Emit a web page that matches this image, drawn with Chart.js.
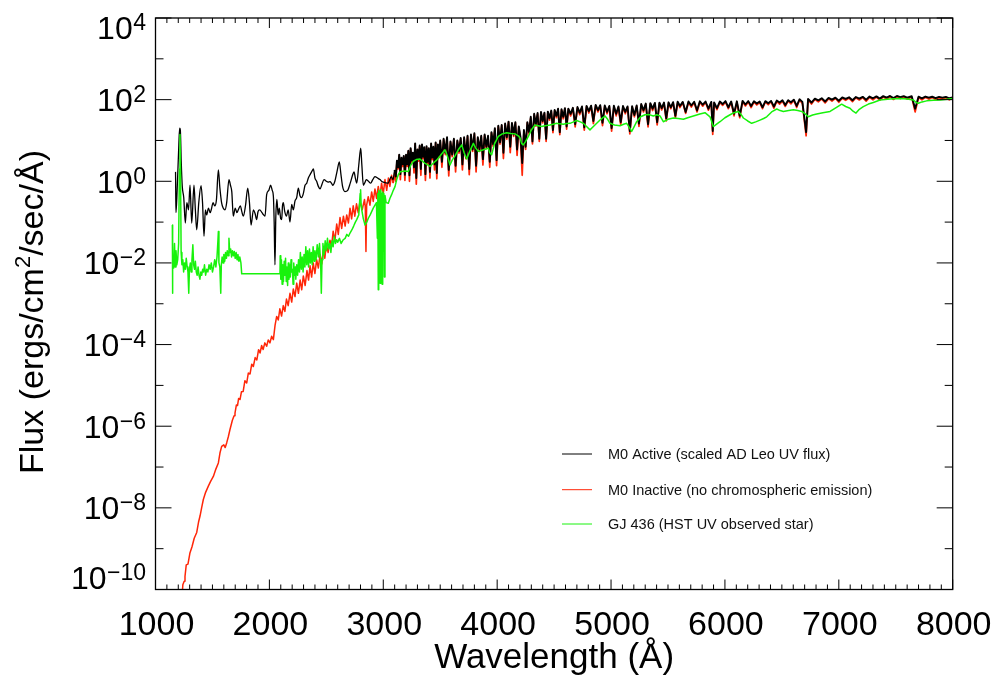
<!DOCTYPE html>
<html>
<head>
<meta charset="utf-8">
<title>M0 dwarf spectra</title>
<script src="https://cdn.jsdelivr.net/npm/chart.js@4.4.1/dist/chart.umd.min.js"></script>
<style>
  html, body { margin: 0; padding: 0; background: #fff; }
  canvas { display: block; }
</style>
</head>
<body>
<canvas id="spectra" width="995" height="681"></canvas>
<script>
// ---- Axis settings and tick labels ----
const xMin = 1000, xMax = 8000, xMajorStep = 1000, xMinorStep = 100;
const xTickValues = [1000, 2000, 3000, 4000, 5000, 6000, 7000, 8000];
const yTickExponents = [4, 2, 0, -2, -4, -6, -8, -10];
const yMinExp = -10, yMaxExp = 4;
const xTitle = 'Wavelength (Å)';
const yTitleParts = ['Flux (ergs/cm', '2', '/sec/Å)'];
const seriesNames = [
  'M0 Active (scaled AD Leo UV flux)',
  'M0 Inactive (no chromospheric emission)',
  'GJ 436 (HST UV observed star)'
];

// ---- M0 active: UV part (wavelength in Å, flux in ergs/cm2/sec/Å) ----
const activeUvWave = [1176,1178,1180,1190,1205,1212,1218,1226,1235,1248,
  1262,1275,1290,1303,1318,1338,1350,1362,1380,1400,
  1413,1426,1438,1449,1465,1480,1493,1505,1520,1535,
  1552,1565,1581,1595,1610,1625,1645,1658,1670,1683,
  1700,1715,1727,1745,1758,1771,1790,1810,1825,1839,
  1860,1875,1888,1900,1915,1935,1950,1962,1976,1995,
  2011,2025,2035,2042,2049,2056,2066,2077,2087,2100,
  2108,2115,2122,2135,2150,2165,2181,2196,2210,2225,
  2240,2254,2268,2283,2298,2313,2328,2342,2360,2375,
  2386,2400,2415,2430,2445,2462,2480,2500,2515,2532,
  2545,2556,2575,2595,2614,2628,2643,2664,2688,2710,
  2730,2743,2755,2767,2785,2802,2812,2825,2840,2851,
  2870,2889,2908,2927,2950,2971,2985,3000,3020,3044,
  3057,3070,3085,3100];
const activeUvFlux = [1.7,0.4,0.17,0.6,8,20,18,3,0.75,0.4,
  0.095,0.3,0.2,0.8,0.095,0.8,0.2,0.065,0.3,0.78,
  0.3,0.045,0.2,0.15,0.22,0.17,0.22,0.3,0.25,0.35,
  1.9,0.7,0.29,0.22,0.2,0.3,1.1,0.8,0.55,0.14,
  0.22,0.17,0.2,0.25,0.18,0.14,0.25,0.68,0.3,0.085,
  0.2,0.16,0.115,0.18,0.2,0.17,0.15,0.14,0.47,0.6,
  0.8,0.6,0.43,0.1,0.009,0.12,0.36,0.15,0.22,0.12,
  0.115,0.25,0.3,0.18,0.14,0.2,0.1,0.27,0.2,0.33,
  0.4,0.68,0.45,0.4,0.5,0.8,0.9,1.2,1.5,1.8,
  2.0,1.2,1.0,0.75,0.65,0.85,1.1,1.0,0.95,0.98,
  0.9,0.8,1.0,1.8,3.0,1.5,0.74,0.56,0.6,0.9,
  1.4,1.7,1.2,0.9,2.5,6.5,2.5,0.8,0.95,1.1,
  1.0,0.9,1.1,1.3,1.2,1.1,1.0,0.95,0.92,0.9,
  1.1,1.3,1.1,1.9];

// ---- M0 inactive: UV part ----
const inactiveUvWave = [1228,1240,1252,1259,1270,1285,1303,1320,1340,1362,
  1378,1391,1405,1420,1440,1464,1485,1508,1530,1552,
  1566,1581,1600,1612,1625,1640,1654,1675,1690,1698,
  1710,1720,1730,1742,1755,1770,1785,1801,1815,1830,
  1845,1859,1875,1890,1905,1918,1932,1945,1960,1976,
  1990,2005,2020,2035,2050,2064,2078,2092,2107,2122,
  2136,2150,2165,2181,2196,2210,2225,2240,2255,2270,
  2284,2298,2314,2330,2344,2357,2371,2385,2400,2415,
  2430,2445,2460,2474,2487,2500,2516,2532,2546,2560,
  2575,2591,2605,2620,2635,2650,2665,2679,2694,2708,
  2722,2736,2750,2765,2780,2796,2815,2835,2842,2848,
  2854,2868,2883,2898,2912,2927,2941,2956,2971,2985,
  3000,3015,3030,3045,3058,3073,3087];
const inactiveUvFlux = [4e-11,1.3e-10,1.6e-10,2.1e-10,4.0e-10,4.2e-10,8.0e-10,1.1e-9,1.8e-9,2.5e-9,
  4.5e-9,6.3e-9,1.0e-8,1.6e-8,2.4e-8,3.4e-8,4.5e-8,5.9e-8,8.9e-8,1.26e-7,
  2.2e-7,3.2e-7,3.5e-7,3.0e-7,3.9e-7,5.6e-7,8.3e-7,1.4e-6,1.8e-6,2.1e-6,
  3.3e-6,3.2e-6,4.8e-6,4.5e-6,7.0e-6,7.1e-6,1.3e-5,1.15e-5,2.0e-5,1.9e-5,
  3.3e-5,2.9e-5,4.8e-5,4.2e-5,7.5e-5,6.2e-5,9.5e-5,7.6e-5,1.1e-4,9.1e-5,
  1.3e-4,1.1e-4,1.6e-4,1.32e-4,3.0e-4,4.9e-4,4.0e-4,7.5e-4,5.0e-4,9.0e-4,
  6.5e-4,1.3e-3,9.0e-4,1.8e-3,1.1e-3,2.3e-3,1.5e-3,3.2e-3,1.8e-3,3.8e-3,
  2.2e-3,4.8e-3,2.8e-3,6.5e-3,3.8e-3,8.5e-3,4.5e-3,1.0e-2,5.5e-3,1.2e-2,
  7.5e-3,1.6e-2,9.5e-3,2.2e-2,1.3e-2,2.9e-2,1.8e-2,3.6e-2,2.5e-2,6.0e-2,
  3.5e-2,9.0e-2,5.0e-2,0.13,0.07,0.14,0.08,0.15,0.095,0.22,
  0.12,0.25,0.14,0.28,0.17,0.32,0.2,0.36,0.24,0.019,
  0.26,0.42,0.26,0.55,0.32,0.65,0.38,0.75,0.44,0.9,
  0.5,1.1,0.6,1.2,0.75,1.4,0.9];

// ---- Photospheric part shared by both M0 models ----
const photWave = [3100,3110,3120,3130,3140,3150,3160,3170,3180,3190,
  3200,3210,3220,3230,3240,3250,3260,3270,3280,3290,
  3300,3310,3320,3330,3340,3350,3360,3370,3380,3390,
  3400,3410,3420,3430,3440,3450,3460,3470,3480,3490,
  3500,3515,3530,3545,3560,3575,3590,3605,3620,3635,
  3650,3665,3680,3695,3710,3725,3740,3755,3770,3785,
  3800,3815,3830,3845,3860,3875,3890,3905,3920,3935,
  3950,3965,3980,3995,4010,4025,4040,4055,4070,4085,
  4100,4115,4130,4145,4160,4175,4190,4205,4220,4235,
  4250,4265,4280,4295,4310,4325,4340,4355,4370,4385,
  4400,4415,4430,4445,4460,4475,4490,4505,4520,4535,
  4550,4565,4580,4595,4610,4625,4645,4665,4685,4705,
  4725,4745,4765,4785,4805,4825,4845,4865,4885,4905,
  4925,4945,4965,4985,5005,5025,5045,5065,5085,5105,
  5125,5145,5165,5185,5205,5225,5245,5265,5285,5305,
  5325,5345,5365,5385,5405,5425,5445,5465,5485,5505,
  5525,5545,5565,5585,5605,5630,5655,5680,5705,5730,
  5755,5780,5805,5830,5855,5880,5893,5905,5930,5955,
  5980,6005,6030,6055,6080,6105,6130,6155,6180,6205,
  6230,6255,6280,6305,6330,6355,6380,6405,6430,6455,
  6480,6505,6530,6555,6580,6605,6630,6655,6680,6713,
  6730,6760,6790,6820,6850,6880,6910,6940,6970,7000,
  7030,7060,7090,7120,7150,7180,7210,7240,7270,7300,
  7330,7360,7390,7420,7450,7480,7510,7540,7570,7600,
  7640,7670,7700,7730,7760,7790,7820,7850,7880,7910,
  7940,7970,8000];
const activePhotFlux = [1.9,1.3,3.2,2.2,4.5,1.5,3.8,2.6,4.2,1.45,
  4.5,2.6,5.6,1.4,6.5,3.2,5.0,2.2,8.5,1.2,
  6.0,3.5,7.5,2.0,8.0,4.0,6.8,1.5,7.2,3.0,
  6.5,1.7,8.5,3.8,7.0,2.6,9.0,1.6,8.0,4.2,
  10,3.0,11,5.0,12,1.9,9.5,4.5,11,2.4,
  10,5.5,11.5,2.6,12,4.0,13,2.0,14,6.0,
  15,2.4,12,6.0,13,3.5,14,7.0,13,3.0,
  16,8.0,20,3.3,23,9.0,24,5.0,26,12,
  29,7.0,27,14,28,6.0,22,12,2.8,18,
  7.0,28,16,38,9.5,45,25,47,11,50,
  30,48,11,51,35,54,18,56,40,60,
  16,58,38,62,22,60,45,63,25,66,
  48,68,21,70,52,71,30,74,55,73,
  27,72,50,70,20,71,45,68,28,70,
  50,68,17,69,42,72,26,78,55,80,
  25,82,60,83,28,84,62,85,35,86,
  65,87,40,89,70,88,50,90,72,89,
  55,91,75,90,60,88,17,85,62,90,
  78,92,65,90,45,91,40,93,76,92,
  70,91,80,90,65,92,82,93,68,95,
  85,96,74,97,86,100,70,102,88,16,
  104,85,106,96,108,90,110,100,112,94,
  113,104,114,97,116,106,117,100,119,108,
  120,106,122,112,123,110,123,115,122,112,
  121,60,118,108,119,112,118,109,117,112,
  117,108,114];
const inactivePhotFlux = [1.6,1.0,3.0,2.0,4.3,1.1,3.6,2.3,4.0,1.05,
  4.3,2.3,5.4,1.0,6.2,2.9,4.8,1.6,8.2,0.85,
  5.8,3.1,7.2,1.4,7.7,3.6,6.5,1.05,6.9,2.6,
  6.2,1.2,8.2,3.4,6.7,1.9,8.6,1.15,7.7,3.8,
  9.6,2.2,10.5,4.5,11.5,1.35,9.1,4.0,10.5,1.7,
  9.6,4.9,11,1.9,11.5,3.6,12.5,1.45,13.4,5.4,
  14.4,1.7,11.5,5.4,12.5,2.5,13.4,6.3,12.5,2.2,
  15.4,7.2,19,2.4,22,8.1,23,3.6,25,10.8,
  28,5.0,26,12.6,27,4.3,21,10.8,1.4,17,
  6.0,27,14.4,36,8.2,43,22.5,45,9.5,48,
  27,46,9.5,49,31.5,52,15.5,54,36,58,
  13.8,56,34,60,19,58,40,61,21.5,63,
  43,65,18,67,47,68,26,71,50,70,
  23,69,45,67,17,68,40,65,24,67,
  45,65,14.5,66,38,69,22,75,50,77,
  21.5,79,54,80,24,81,56,82,30,83,
  60,84,36,85,64,85,46,86,66,85,
  50,87,69,86,55,85,14,82,57,86,
  72,88,60,86,40,87,36,89,70,88,
  64,87,74,86,60,88,75,89,62,91,
  78,92,68,93,79,96,64,98,81,13,
  100,78,102,88,104,83,106,92,108,86,
  108,96,109,89,111,98,112,92,114,99,
  115,97,117,103,118,101,118,106,117,103,
  116,50,113,99,114,103,113,100,112,103,
  112,99,110];

// ---- GJ 436: HST UV spectrum ----
const gjUvWave = [1148,1149,1152,1160,1167,1173,1180,1187,1195,1203,
  1210,1215,1220,1225,1232,1240,1247,1255,1262,1270,
  1278,1285,1292,1298,1306,1313,1320,1328,1335,1343,
  1350,1358,1366,1374,1382,1390,1398,1406,1414,1422,
  1430,1440,1450,1460,1470,1480,1490,1500,1510,1520,
  1530,1540,1548,1552,1557,1565,1573,1578,1585,1593,
  1600,1608,1615,1623,1630,1638,1645,1652,1660,1668,
  1676,1684,1692,1700,1708,1716,1724,1732,1740,1750,
  1757,2093,2095,2100,2106,2112,2118,2124,2130,2136,
  2142,2148,2154,2160,2166,2172,2178,2184,2190,2196,
  2202,2208,2214,2220,2226,2232,2240,2248,2256,2264,
  2272,2280,2288,2296,2304,2312,2320,2328,2336,2344,
  2352,2360,2368,2376,2384,2392,2400,2410,2420,2430,
  2440,2450,2456,2462,2470,2480,2490,2500,2510,2520,
  2530,2540,2550,2560,2570,2580,2591,2600,2615,2630,
  2649,2665,2680,2695,2708,2725,2740,2755,2767,2785,
  2797,2801,2806,2811,2825,2840,2855,2870,2885,2898,
  2912,2927,2940,2948,2952,2956,2960,2964,2968,2972,
  2976,2980,2985,2990,2995,3000,3005,3010,3015,3025,
  3044,3058,3073,3088];
const gjUvFlux = [0.085,0.0018,0.01,0.0075,0.03,0.008,0.02,0.009,0.012,0.03,
  2,14,1.5,0.018,0.009,0.012,0.006,0.01,0.007,0.013,
  0.008,0.006,0.0018,0.007,0.01,0.006,0.012,0.028,0.009,0.007,
  0.011,0.006,0.005,0.008,0.005,0.004,0.006,0.005,0.007,0.006,
  0.009,0.005,0.007,0.006,0.009,0.007,0.01,0.006,0.008,0.012,
  0.008,0.014,0.035,0.059,0.01,0.008,0.0018,0.009,0.014,0.01,
  0.016,0.011,0.018,0.013,0.02,0.015,0.04,0.018,0.022,0.014,
  0.02,0.015,0.019,0.013,0.018,0.012,0.016,0.011,0.014,0.01,
  0.0054,0.0054,0.015,0.004,0.012,0.003,0.009,0.0035,0.011,0.005,
  0.013,0.0035,0.008,0.0028,0.01,0.004,0.009,0.0045,0.012,0.006,
  0.007,0.003,0.01,0.005,0.008,0.004,0.009,0.005,0.012,0.006,
  0.018,0.007,0.014,0.006,0.016,0.008,0.025,0.009,0.02,0.008,
  0.022,0.01,0.018,0.009,0.025,0.011,0.02,0.012,0.028,0.014,
  0.03,0.01,0.0018,0.012,0.03,0.016,0.035,0.02,0.04,0.022,
  0.03,0.018,0.035,0.025,0.045,0.03,0.037,0.032,0.04,0.03,
  0.037,0.04,0.05,0.045,0.054,0.065,0.08,0.1,0.115,0.15,
  0.5,0.62,0.25,0.2,0.12,0.085,0.1,0.126,0.15,0.18,
  0.22,0.26,0.3,0.04,0.5,0.0022,0.6,0.01,0.55,0.0032,
  0.62,0.005,0.5,0.003,0.55,0.02,0.5,0.0045,0.45,0.3,
  0.29,0.38,0.47,0.6];

// ---- GJ 436: optical continuation ----
const gjPhotWave = [3103,3118,3132,3147,3161,3190,3220,3242,3264,3290,
  3322,3345,3366,3385,3410,3440,3469,3500,3542,3565,
  3586,3605,3630,3660,3689,3710,3733,3760,3791,3812,
  3835,3860,3879,3900,3922,3935,3952,3975,4010,4045,
  4084,4120,4157,4185,4201,4215,4230,4250,4274,4300,
  4332,4360,4391,4420,4464,4490,4523,4550,4581,4610,
  4640,4670,4698,4730,4757,4785,4815,4845,4874,4910,
  4947,4970,4991,5030,5079,5110,5137,5160,5181,5200,
  5225,5260,5298,5335,5371,5401,5430,5459,5500,5547,
  5590,5635,5680,5723,5780,5825,5869,5898,5930,5957,
  6000,6045,6080,6118,6140,6162,6200,6235,6270,6308,
  6340,6367,6410,6455,6485,6513,6560,6601,6640,6674,
  6700,6732,6770,6806,6860,6923,6980,7025,7060,7098,
  7125,7151,7180,7215,7260,7303,7362,7450,7538,7600,
  7655,7680,7699,7730,7772,7830,7889,7950,8000];
const gjPhotFlux = [0.74,1.1,1.45,1.7,1.74,1.78,1.74,2.5,3.1,3.4,
  3.5,3.1,2.75,2.6,2.3,2.8,3.3,4.2,5.9,4.0,
  2.5,3.3,4.2,6.0,7.8,5.0,3.5,5.5,8.5,6.5,
  5.4,5.7,5.9,6.2,6.5,5.0,4.5,8.0,12.6,14.5,
  15.5,14.8,14.5,13,11.5,8.5,7.8,9.5,12.6,18,
  24,23,21.9,23,24,25,26.3,25.5,25,26,
  26.3,28.5,30.9,28.5,26.3,22,18.2,22,26.3,33,
  39.8,33,26.3,24,22.9,25,26.3,21,16.6,21,
  28.8,38,42.7,43,39.8,42.7,40,28.8,33,35.5,
  34.5,33.1,36.5,39.8,44.5,47.9,38,21.9,25.5,28.8,
  36,42.7,48,51.3,44,35.5,30,26.3,28.5,31.6,
  34.5,38,50,58.9,54,51.3,54,56.2,54,51.3,
  46,38,42,44.7,48,51.3,65,77.6,68,61.7,
  52,46.8,58,67.6,78,85.1,97.7,104,107,104,
  97.7,85,81.3,88,93.3,96,97.7,102,107];

// ---- Colours ----
const BLACK = '#000000';
const RED = 'rgb(255,38,8)';
const GREEN = 'rgb(24,242,12)';
const FONT = '"Liberation Sans", Arial, Helvetica, sans-serif';

function toPoints(waves, fluxes) {
  return waves.map((w, i) => ({ x: w, y: fluxes[i] }));
}

const activeUvData = toPoints(activeUvWave, activeUvFlux);
const activePhotData = toPoints(photWave, activePhotFlux);
const inactiveUvData = toPoints(inactiveUvWave, inactiveUvFlux);
const inactivePhotData = toPoints([inactiveUvWave[inactiveUvWave.length - 1]].concat(photWave),
  [inactiveUvFlux[inactiveUvFlux.length - 1]].concat(inactivePhotFlux));
const gjData = toPoints(gjUvWave.concat(gjPhotWave), gjUvFlux.concat(gjPhotFlux));

// Frame, inward ticks, tick labels, axis titles and the legend
const axisFrame = {
  id: 'axisFrame',
  afterDraw(chart) {
    const { ctx, chartArea: a } = chart;
    const xs = chart.scales.x, ys = chart.scales.y;
    ctx.save();

    // box
    ctx.strokeStyle = '#000';
    ctx.lineWidth = 1.3;
    ctx.strokeRect(a.left, a.top, a.right - a.left, a.bottom - a.top);

    // ticks
    ctx.lineWidth = 1;
    ctx.beginPath();
    for (let v = xMin; v <= xMax; v += xMinorStep) {
      const px = xs.getPixelForValue(v);
      const len = (v % xMajorStep === 0) ? 10 : 5;
      ctx.moveTo(px, a.bottom); ctx.lineTo(px, a.bottom - len);
      ctx.moveTo(px, a.top); ctx.lineTo(px, a.top + len);
    }
    for (let e = yMinExp; e <= yMaxExp; e++) {
      const py = ys.getPixelForValue(Math.pow(10, e));
      const len = (e % 2 === 0) ? 16 : 8;
      ctx.moveTo(a.left, py); ctx.lineTo(a.left + len, py);
      ctx.moveTo(a.right, py); ctx.lineTo(a.right - len, py);
    }
    ctx.stroke();

    ctx.fillStyle = '#000';

    // x tick labels
    ctx.font = '34px ' + FONT;
    ctx.textAlign = 'center';
    ctx.textBaseline = 'alphabetic';
    xTickValues.forEach(v => {
      ctx.fillText(String(v), xs.getPixelForValue(v) + 1, a.bottom + 45);
    });

    // y tick labels: 10 with a raised exponent
    ctx.textAlign = 'right';
    const labelRight = a.left - 9.5;
    yTickExponents.forEach(e => {
      const py = ys.getPixelForValue(Math.pow(10, e));
      const cy = Math.min(Math.max(py, a.top + 9.5), a.bottom - 12);
      const base = cy + 11.5;
      const expText = e < 0 ? '\u2212' + Math.abs(e) : String(e);
      ctx.font = '23px ' + FONT;
      const expW = ctx.measureText(expText).width;
      ctx.fillText(expText, labelRight, base - 9);
      ctx.font = '32px ' + FONT;
      ctx.fillText('10', labelRight - expW - 0.5, base);
    });

    // x title
    ctx.font = '35px ' + FONT;
    ctx.textAlign = 'center';
    ctx.fillText(xTitle, (a.left + a.right) / 2, 668);

    // y title, rotated, with superscript 2
    ctx.save();
    ctx.translate(42.5, 312);
    ctx.rotate(-Math.PI / 2);
    ctx.textAlign = 'left';
    const sizes = [34, 22, 34];
    const shifts = [0, -13, 0];
    const widths = yTitleParts.map((t, i) => {
      ctx.font = sizes[i] + 'px ' + FONT;
      return ctx.measureText(t).width;
    });
    let tx = -widths.reduce((s, w) => s + w, 0) / 2;
    yTitleParts.forEach((t, i) => {
      ctx.font = sizes[i] + 'px ' + FONT;
      ctx.fillText(t, tx, shifts[i]);
      tx += widths[i];
    });
    ctx.restore();

    // legend
    const legendColors = [BLACK, RED, GREEN];
    const legendBaselines = [459.3, 495, 529.3];
    ctx.font = '14.5px ' + FONT;
    ctx.textAlign = 'left';
    ctx.lineWidth = 1;
    seriesNames.forEach((name, i) => {
      const yb = legendBaselines[i];
      ctx.strokeStyle = legendColors[i];
      ctx.beginPath();
      ctx.moveTo(562, yb - 5.3);
      ctx.lineTo(592, yb - 5.3);
      ctx.stroke();
      ctx.fillStyle = '#111';
      ctx.fillText(name, 608, yb);
    });

    ctx.restore();
  }
};

const common = { pointRadius: 0, borderWidth: 1.3, tension: 0, fill: false, borderJoinStyle: 'round', spanGaps: true };

new Chart(document.getElementById('spectra'), {
  type: 'line',
  data: {
    datasets: [
      Object.assign({}, common, { label: seriesNames[2], data: gjData, borderColor: GREEN, order: 0,
        borderWidth: 1.5 }),
      Object.assign({}, common, { label: seriesNames[0], data: activeUvData, borderColor: BLACK, order: 1,
        cubicInterpolationMode: 'monotone' }),
      Object.assign({}, common, { label: seriesNames[0], data: activePhotData, borderColor: BLACK, order: 1,
        borderWidth: 1.9 }),
      Object.assign({}, common, { label: seriesNames[1], data: inactiveUvData, borderColor: RED, order: 2,
        borderWidth: 1.5 }),
      Object.assign({}, common, { label: seriesNames[1], data: inactivePhotData, borderColor: RED, order: 2,
        borderWidth: 1.7 })
    ]
  },
  options: {
    responsive: false,
    animation: false,
    events: [],
    parsing: false,
    normalized: true,
    layout: { padding: { left: 155.5, right: 42.3, top: 18, bottom: 91.5 } },
    plugins: { legend: { display: false }, tooltip: { enabled: false } },
    scales: {
      x: { type: 'linear', min: xMin, max: xMax, display: false },
      y: { type: 'logarithmic', min: Math.pow(10, yMinExp), max: Math.pow(10, yMaxExp), display: false }
    }
  },
  plugins: [axisFrame]
});
</script>
</body>
</html>
